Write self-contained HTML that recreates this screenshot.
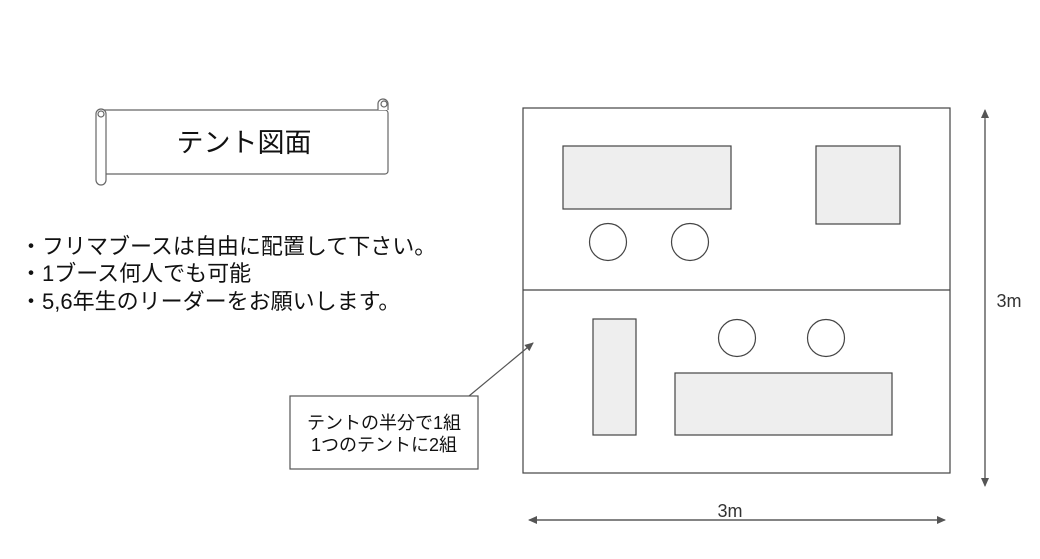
<!DOCTYPE html>
<html><head><meta charset="utf-8"><style>
html,body{margin:0;padding:0;background:#fff;}
svg{display:block;font-family:"Liberation Sans","Noto Sans CJK JP",sans-serif;}
</style></head><body>
<svg width="1040" height="559" viewBox="0 0 1040 559" xmlns="http://www.w3.org/2000/svg">
<defs>
<marker id="ah" markerWidth="10" markerHeight="10" refX="8" refY="5" orient="auto" markerUnits="userSpaceOnUse"><path d="M0,1 L9,5 L0,9 Z" fill="#555"/></marker>
</defs>
<g fill="#fff" stroke="#666" stroke-width="1.2">
<rect x="100" y="110" width="288" height="64" rx="3"/>
<path d="M96,114 a5,5 0 0 1 10,0 L106,180 a5,5 0 0 1 -10,0 Z"/>
<circle cx="101" cy="114" r="3"/>
<path d="M378,110 L378,104 a5,5 0 0 1 10,0 L388,110"/>
<circle cx="384" cy="104" r="3"/>
</g>
<text x="244" y="152" font-size="27" text-anchor="middle" fill="#111">テント図面</text>
<g font-size="22" fill="#111">
<text x="20" y="254">・フリマブースは自由に配置して下さい。</text>
<text x="20" y="281">・1ブース何人でも可能</text>
<text x="20" y="309">・5,6年生のリーダーをお願いします。</text>
</g>
<g stroke="#444" stroke-width="1.2" fill="#fff">
<rect x="523" y="108" width="427" height="365"/>
<line x1="523" y1="290" x2="950" y2="290"/>
</g>
<g stroke="#444" stroke-width="1.2" fill="#eeeeee">
<rect x="563" y="146" width="168" height="63"/>
<rect x="816" y="146" width="84" height="78"/>
<rect x="593" y="319" width="43" height="116"/>
<rect x="675" y="373" width="217" height="62"/>
</g>
<g stroke="#444" stroke-width="1.2" fill="#fff">
<circle cx="608" cy="242" r="18.5"/>
<circle cx="690" cy="242" r="18.5"/>
<circle cx="737" cy="338" r="18.5"/>
<circle cx="826" cy="338" r="18.5"/>
</g>
<line x1="469" y1="396" x2="533" y2="343" stroke="#555" stroke-width="1.2" marker-end="url(#ah)"/>
<rect x="290" y="396" width="188" height="73" fill="#fff" stroke="#555" stroke-width="1.2"/>
<text x="384" y="429" font-size="18" text-anchor="middle" fill="#111">テントの半分で1組</text>
<text x="384" y="451" font-size="18" text-anchor="middle" fill="#111">1つのテントに2組</text>
<line x1="985" y1="120" x2="985" y2="486" stroke="#555" stroke-width="1.2" marker-end="url(#ah)"/>
<line x1="985" y1="480" x2="985" y2="110" stroke="#555" stroke-width="1.2" marker-end="url(#ah)"/>
<text x="1009" y="307" font-size="18" text-anchor="middle" fill="#333">3m</text>
<line x1="535" y1="520" x2="945" y2="520" stroke="#555" stroke-width="1.2" marker-end="url(#ah)"/>
<line x1="940" y1="520" x2="529" y2="520" stroke="#555" stroke-width="1.2" marker-end="url(#ah)"/>
<text x="730" y="517" font-size="18" text-anchor="middle" fill="#333">3m</text>
</svg>
</body></html>
